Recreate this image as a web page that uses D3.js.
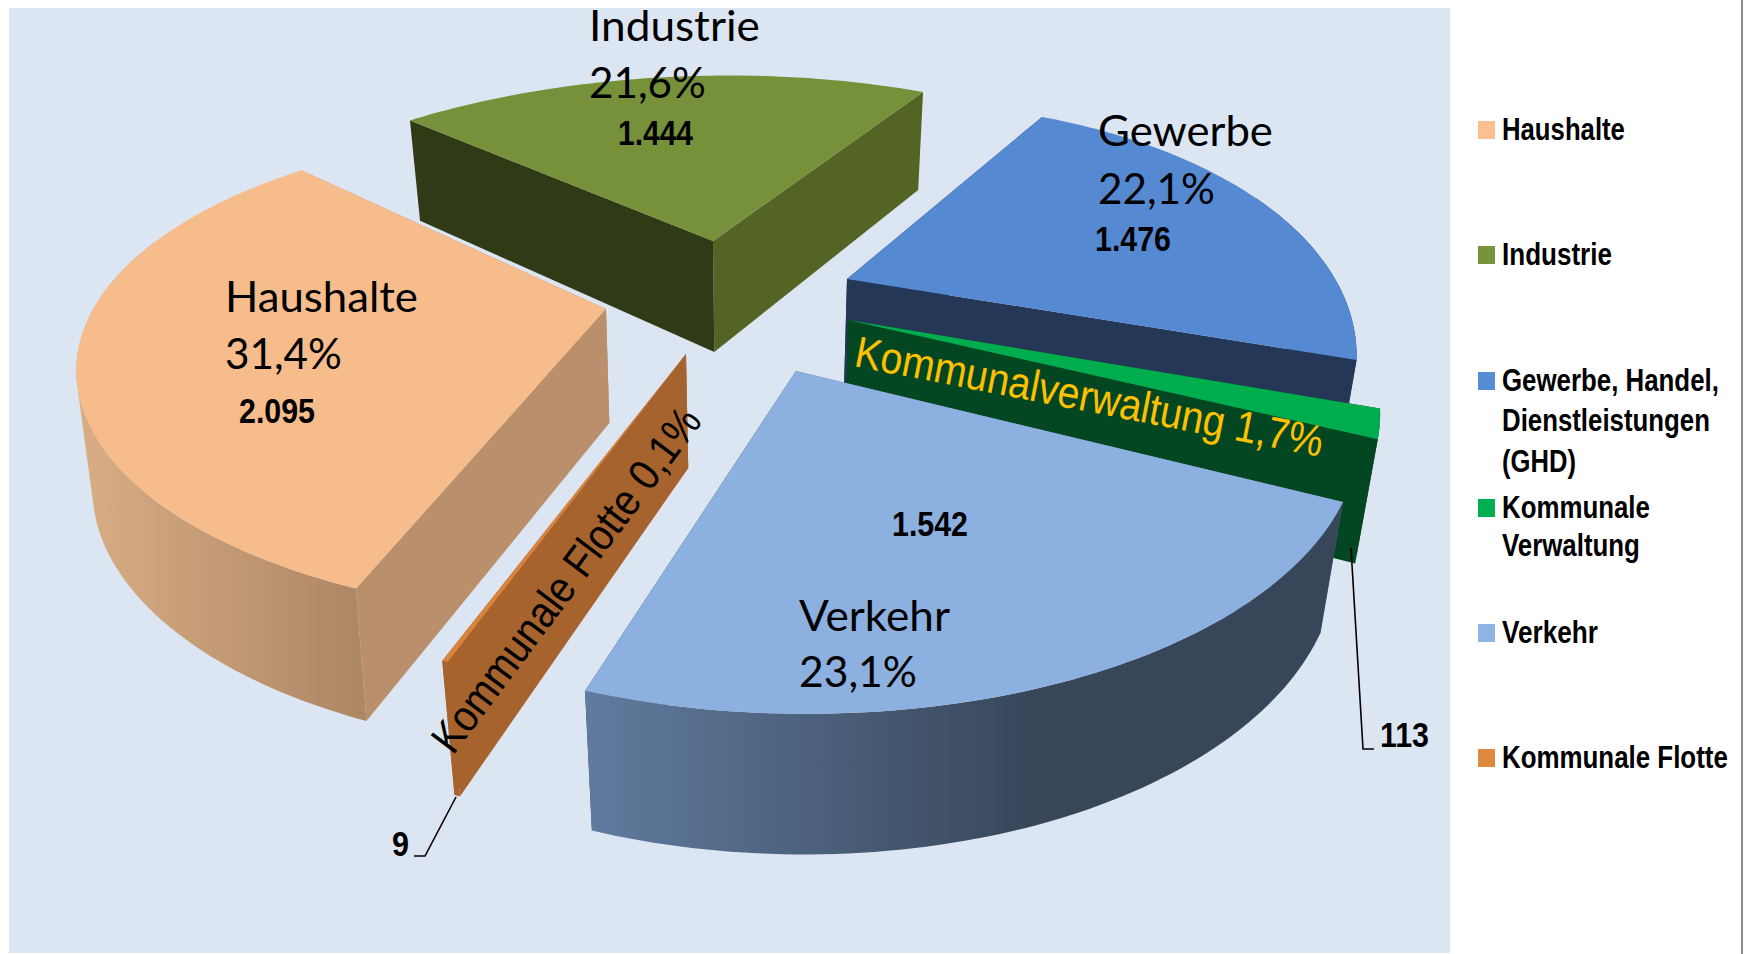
<!DOCTYPE html>
<html><head><meta charset="utf-8">
<script src="https://cdn.jsdelivr.net/npm/d3@7/dist/d3.min.js"></script>
<style>html,body{margin:0;padding:0;background:#fff;overflow:hidden}svg{display:block}</style>
</head><body><svg id="c" width="1748" height="954"></svg>
<script>
// ---- data ----
const categories = ["Haushalte","Industrie","Gewerbe, Handel, Dienstleistungen (GHD)","Kommunale Verwaltung","Verkehr","Kommunale Flotte"];
const values = [2095,1444,1476,113,1542,9];
const shares = ["31,4%","21,6%","22,1%","1,7%","23,1%","0,1%"];
const valueLabels = ["2.095","1.444","1.476","113","1.542","9"];
const shortNames = ["Haushalte","Industrie","Gewerbe","Kommunalverwaltung","Verkehr","Kommunale Flotte"];

// ---- appearance ----
const topColors  = ["#F6BC8C","#77913A","#558AD3","#00AD4E","#8CB0DF","#D9843E"];
const startWall  = ["#BA8F6B","#313A17","#243756","#024722","#5F789C","#A6632E"];
const endWall    = ["#BA8F6B","#536425","#243756","#024722","#374659","#A6632E"];
const outerStops = [["#D9AE86","#AE8765"],["#536425","#536425"],["#243756","#243756"],["#024722","#024722"],["#617B9F","#374659"],["#A6632E","#A6632E"]];
const outerStopAt = [1,1,1,1,0.6,1];
const legendColors = ["#FAC090","#77933C","#558ED5","#00B050","#8EB4E3","#DD8A40"];

// projection of the disc plane (perspective pie, slightly different per exploded slice)
const Rx=485, Ry=223, vanishX=753;
const depth=[114,111,114,114,125,114];
const converge=[0.024,0.035,0.035,0.035,0.035,0.035];
const apex=[[606,309],[713,241],[847,279],[848,320],[796,371],[686,354]];
const persp=[0.26,0.352,0.352,0.352,0.2,0.28];
const view=[[1.04,-0.1081,0.0276,1.0223],[1.0723,-0.0748,-0.0027,1.0033],[0.9951,-0.0704,-0.0183,1.0717],[1.027,0,0,1.05],[1.1364,0.0276,0.0026,1.2299],[1.124,0,0,1.071]];
const firstAngle=-160.8*Math.PI/180;

const svg=d3.select("#c");
const defs=svg.append("defs");
svg.append("rect").attr("x",9).attr("y",8).attr("width",1441).attr("height",945).attr("fill","#DCE6F2");
svg.append("rect").attr("x",1741).attr("y",0).attr("width",2).attr("height",954).attr("fill","#8C8C8C");

const arcs=d3.pie().sort(null).startAngle(firstAngle).endAngle(firstAngle+2*Math.PI)(values);
const line=d3.line();
function top3(i,a,rho){
  const u=rho*Math.sin(a), v=-rho*Math.cos(a), s=1/(1-persp[i]*v);
  const px=Rx*u*s, py=Ry*v*s, m=view[i];
  return {x:apex[i][0]+m[0]*px+m[1]*py, y:apex[i][1]+m[2]*px+m[3]*py, s, v, i};
}
function bottom3(p){
  const d=depth[p.i]*(0.5+0.5*p.s);
  return {x:p.x-(p.x-vanishX)*converge[p.i]*d/120, y:p.y+d};
}
const xy=p=>[p.x,p.y];

const order=d3.range(arcs.length).sort((a,b)=>{
  const m=d=>-Math.cos((arcs[d].startAngle+arcs[d].endAngle)/2);
  return m(a)-m(b);
});

order.forEach(i=>{
  const d=arcs[i], g=svg.append("g").attr("class","slice");
  const steps=Math.max(2,Math.ceil((d.endAngle-d.startAngle)/0.02));
  const angles=d3.range(steps+1).map(k=>d.startAngle+(d.endAngle-d.startAngle)*k/steps);
  const rim=angles.map(a=>top3(i,a,1));
  const A=top3(i,0,0), AB=bottom3(A);
  const s0=rim[0], s1=rim[rim.length-1];
  // radial walls
  g.append("path").attr("d",line([xy(A),xy(s1),xy(bottom3(s1)),xy(AB)])+"Z").attr("fill",endWall[i]);
  g.append("path").attr("d",line([xy(A),xy(s0),xy(bottom3(s0)),xy(AB)])+"Z").attr("fill",startWall[i]);
  // outer wall: swept rim segments, all wound the same way so their union fills
  const front=rim.filter(p=>p.v>=-persp[i]);
  if(front.length>1){
    const gid="outer"+i, xs=front.map(p=>p.x);
    const grad=defs.append("linearGradient").attr("id",gid).attr("gradientUnits","userSpaceOnUse")
      .attr("x1",d3.min(xs)).attr("x2",d3.max(xs)).attr("y1",0).attr("y2",0);
    grad.append("stop").attr("offset",0).attr("stop-color",outerStops[i][0]);
    grad.append("stop").attr("offset",outerStopAt[i]).attr("stop-color",outerStops[i][1]);
    const quads=d3.pairs(front).map(([a,b])=>{
      const q=[xy(a),xy(b),xy(bottom3(b)),xy(bottom3(a))];
      return line(d3.polygonArea(q)<0?q.reverse():q)+"Z";
    }).join("");
    g.append("path").attr("d",quads).attr("fill",`url(#${gid})`);
  }
  // top
  g.append("path").attr("d",line([xy(A)].concat(rim.map(xy)))+"Z").attr("fill",topColors[i]);
});

// ---- labels: fitted horizontally by a scale so the glyphs look like the stretched original ----
function txt(t,x,y,size,w,opt={}){
  const e=svg.append("text").attr("font-size",size)
    .attr("font-family",opt.family||"Lato, sans-serif").attr("fill",opt.fill||"#000")
    .attr("font-weight",opt.weight||400).text(t);
  const sx=w/e.node().getComputedTextLength();
  e.attr("transform",`translate(${x} ${y}) rotate(${opt.rot||0}) scale(${sx} 1)`);
  return e;
}
const arial="'Liberation Sans', Arial, sans-serif";
// name + share
txt(shortNames[0],225,312,42,193); txt(shares[0],225,369,42,117);
txt(shortNames[1],589,41,42,171);  txt(shares[1],589,98,42,117);
txt(shortNames[2],1098,146,42,175);txt(shares[2],1098,204,42,117);
txt(shortNames[4],799,631,42,151); txt(shares[4],799,687,42,118);
// values
const valueBold={family:arial,weight:700};
txt(valueLabels[0],239,423,36,76,valueBold);
txt(valueLabels[1],618,145,36,75,valueBold);
txt(valueLabels[2],1095,251,36,76,valueBold);
txt(valueLabels[4],892,536,36,76,valueBold);
txt(valueLabels[3],1380,747,36,49,valueBold);
txt(valueLabels[5],392,856,36,17,valueBold);
// rotated labels
txt(shortNames[3]+" "+shares[3],853,366,44,476,{family:arial,fill:"#FFC000",rot:11});
txt(shortNames[5]+" "+shares[5],453,756,44,418,{family:arial,rot:-53.2});
// leader lines
const leaders=[[[1351,548],[1363,749],[1374,749]],[[456,797],[425,856],[414,856]]];
leaders.forEach(l=>svg.append("path").attr("d",line(l)).attr("fill","none").attr("stroke","#000").attr("stroke-width",1.6));

// ---- legend ----
const legendLines=[["Haushalte"],["Industrie"],["Gewerbe, Handel,","Dienstleistungen","(GHD)"],["Kommunale","Verwaltung"],["Verkehr"],["Kommunale Flotte"]];
const legendWidths=[[123],[110],[217,208,74],[148,138],[96],[226]];
const legendBase=[[140],[265],[391,431,472],[518,556],[643],[768]];
legendLines.forEach((ls,i)=>{
  svg.append("rect").attr("x",1478).attr("y",legendBase[i][0]-19).attr("width",17).attr("height",18).attr("fill",legendColors[i]);
  ls.forEach((t,j)=>txt(t,1502,legendBase[i][j],31,legendWidths[i][j],valueBold));
});
</script></body></html>
